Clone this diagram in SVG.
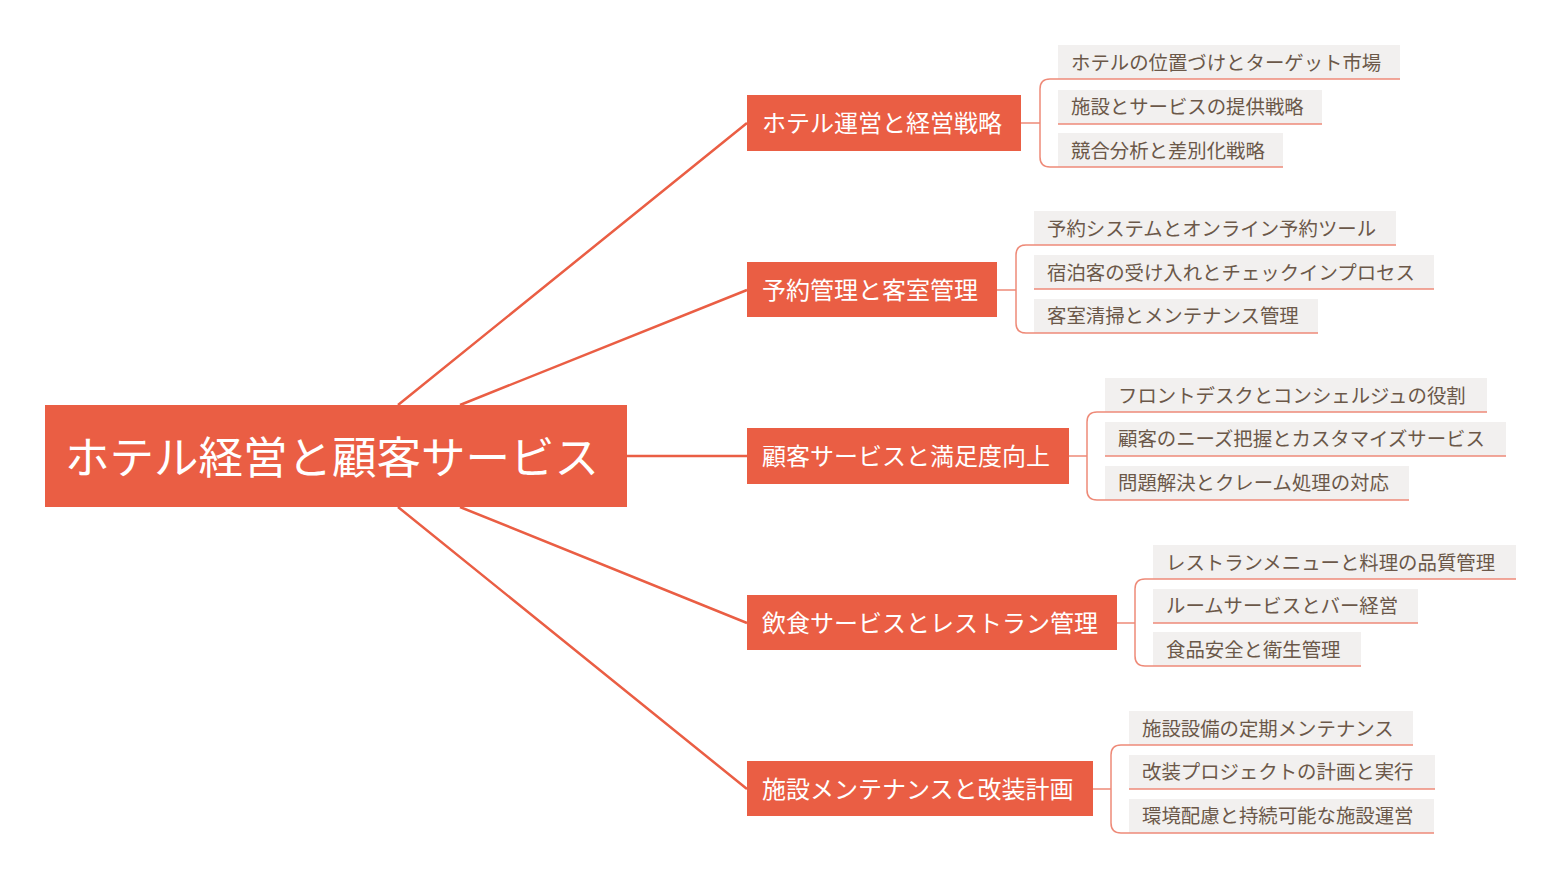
<svg xmlns="http://www.w3.org/2000/svg" width="1560" height="893" viewBox="0 0 1560 893">
<style>
text{font-family:"Noto Sans CJK JP","Noto Sans",sans-serif}
.b{fill:#ea5e44}
.bt{fill:#fff;font-size:24px}
.lf{fill:#f2f0ef}
.lt{fill:#6b5849;font-size:19.4px}
.c{fill:none;stroke:#ea5e44;stroke-width:2.5}
.k{fill:none;stroke:#ee8a78;stroke-width:1.5}
</style>
<rect width="1560" height="893" fill="#fff"/>
<g id="connectors">
<path class="c" d="M398 405L747 123M460 405L747 290M627 456H747M460 507L747 623M398 507L747 789"/>
<path class="k" d="M1021 123H1040M1058 79H1050Q1040 79 1040 89V157Q1040 167 1050 167H1058"/>
<path class="k" d="M997 290H1016M1034 245H1026Q1016 245 1016 255V323Q1016 333 1026 333H1034"/>
<path class="k" d="M1069 456H1087M1105 412H1097Q1087 412 1087 422V490Q1087 500 1097 500H1105"/>
<path class="k" d="M1117 623H1135M1153 579H1145Q1135 579 1135 589V656Q1135 666 1145 666H1153"/>
<path class="k" d="M1093 789H1111M1129 745H1121Q1111 745 1111 755V823Q1111 833 1121 833H1129"/>
</g>
<g id="root"><rect class="b" x="45" y="405" width="582" height="102"/><text x="65" y="474" fill="#fff" font-size="44.5">ホテル経営と顧客サービス</text></g>
<g id="n1"><rect class="b" x="747" y="95" width="274" height="56"/><text class="bt" x="762" y="132">ホテル運営と経営戦略</text></g>
<g id="n2"><rect class="b" x="747" y="262" width="250" height="55"/><text class="bt" x="762" y="299">予約管理と客室管理</text></g>
<g id="n3"><rect class="b" x="747" y="428" width="322" height="56"/><text class="bt" x="762" y="465">顧客サービスと満足度向上</text></g>
<g id="n4"><rect class="b" x="747" y="595" width="370" height="55"/><text class="bt" x="762" y="632">飲食サービスとレストラン管理</text></g>
<g id="n5"><rect class="b" x="747" y="761" width="346" height="55"/><text class="bt" x="762" y="798">施設メンテナンスと改装計画</text></g>
<g id="l1a"><rect class="lf" x="1058" y="45" width="342" height="34"/><path class="k" d="M1058 79H1400"/><text class="lt" x="1071" y="70">ホテルの位置づけとターゲット市場</text></g>
<g id="l1b"><rect class="lf" x="1058" y="90" width="264" height="34"/><path class="k" d="M1058 124H1322"/><text class="lt" x="1071" y="114">施設とサービスの提供戦略</text></g>
<g id="l1c"><rect class="lf" x="1058" y="133" width="225" height="34"/><path class="k" d="M1058 167H1283"/><text class="lt" x="1071" y="158">競合分析と差別化戦略</text></g>
<g id="l2a"><rect class="lf" x="1034" y="211" width="362" height="34"/><path class="k" d="M1034 245H1396"/><text class="lt" x="1047" y="236">予約システムとオンライン予約ツール</text></g>
<g id="l2b"><rect class="lf" x="1034" y="255" width="400" height="34"/><path class="k" d="M1034 289H1434"/><text class="lt" x="1047" y="280">宿泊客の受け入れとチェックインプロセス</text></g>
<g id="l2c"><rect class="lf" x="1034" y="299" width="284" height="34"/><path class="k" d="M1034 333H1318"/><text class="lt" x="1047" y="323">客室清掃とメンテナンス管理</text></g>
<g id="l3a"><rect class="lf" x="1105" y="378" width="382" height="34"/><path class="k" d="M1105 412H1487"/><text class="lt" x="1118" y="403">フロントデスクとコンシェルジュの役割</text></g>
<g id="l3b"><rect class="lf" x="1105" y="422" width="401" height="34"/><path class="k" d="M1105 456H1506"/><text class="lt" x="1118" y="446">顧客のニーズ把握とカスタマイズサービス</text></g>
<g id="l3c"><rect class="lf" x="1105" y="466" width="304" height="34"/><path class="k" d="M1105 500H1409"/><text class="lt" x="1118" y="490">問題解決とクレーム処理の対応</text></g>
<g id="l4a"><rect class="lf" x="1153" y="545" width="363" height="34"/><path class="k" d="M1153 579H1516"/><text class="lt" x="1166" y="570">レストランメニューと料理の品質管理</text></g>
<g id="l4b"><rect class="lf" x="1153" y="589" width="265" height="34"/><path class="k" d="M1153 623H1418"/><text class="lt" x="1166" y="613">ルームサービスとバー経営</text></g>
<g id="l4c"><rect class="lf" x="1153" y="632" width="208" height="34"/><path class="k" d="M1153 666H1361"/><text class="lt" x="1166" y="657">食品安全と衛生管理</text></g>
<g id="l5a"><rect class="lf" x="1129" y="711" width="284" height="34"/><path class="k" d="M1129 745H1413"/><text class="lt" x="1142" y="736">施設設備の定期メンテナンス</text></g>
<g id="l5b"><rect class="lf" x="1129" y="755" width="306" height="34"/><path class="k" d="M1129 789H1435"/><text class="lt" x="1142" y="779">改装プロジェクトの計画と実行</text></g>
<g id="l5c"><rect class="lf" x="1129" y="799" width="305" height="34"/><path class="k" d="M1129 833H1434"/><text class="lt" x="1142" y="823">環境配慮と持続可能な施設運営</text></g>
</svg>
